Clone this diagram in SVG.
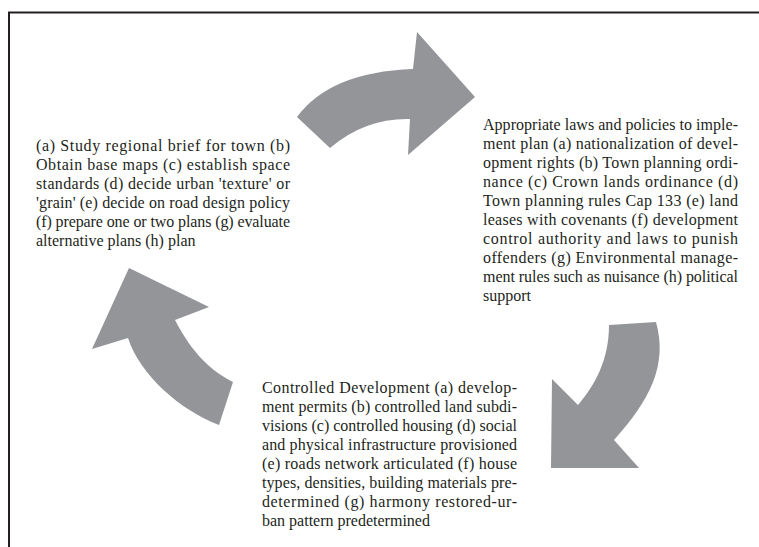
<svg xmlns="http://www.w3.org/2000/svg" width="759" height="547" viewBox="0 0 759 547">
<style>
.frame{fill:none;stroke:#231f20;stroke-width:2}
.arrow{fill:#939598;stroke:none}
.t{font-family:"Liberation Serif","Times New Roman",serif;font-size:16px;fill:#231f20}
</style>
<rect width="759" height="547" fill="#ffffff"/>
<path class="frame" d="M9,547 L9,12.5 L759,12.5"/>
<g id="connectors">
<path id="arrow-top" class="arrow" d="M330,148 L297,117 Q330,72 413,69 L417,32 L475,97 L408,155 L410,119 Q365,118 330,148 Z"/>
<path id="arrow-right" class="arrow" d="M609,325 L656,322 C668,365 650,400 614,440 L639,468 L551,468 L552,379 L578,405 C595,385 609,360 609,325 Z"/>
<path id="arrow-left" class="arrow" d="M129,268 L209,307 L175,320 C188,345 205,368 233,382 L219,425 C180,410 140,375 128,338 L92,349 Z"/>
</g>
<g id="node-plan">
<text class="t" x="36" y="151" textLength="254" lengthAdjust="spacing">(a) Study regional brief for town (b)</text>
<text class="t" x="36" y="170" textLength="254" lengthAdjust="spacing">Obtain base maps (c) establish space</text>
<text class="t" x="36" y="189" textLength="254" lengthAdjust="spacing">standards (d) decide urban 'texture' or</text>
<text class="t" x="36" y="208" textLength="254" lengthAdjust="spacing">'grain' (e) decide on road design policy</text>
<text class="t" x="36" y="227" textLength="254" lengthAdjust="spacing">(f) prepare one or two plans (g) evaluate</text>
<text class="t" x="36" y="246">alternative plans (h) plan</text>
</g>
<g id="node-laws">
<text class="t" x="483" y="130" textLength="255" lengthAdjust="spacing">Appropriate laws and policies to imple-</text>
<text class="t" x="483" y="149" textLength="255" lengthAdjust="spacing">ment plan (a) nationalization of devel-</text>
<text class="t" x="483" y="168" textLength="255" lengthAdjust="spacing">opment rights (b) Town planning ordi-</text>
<text class="t" x="483" y="187" textLength="255" lengthAdjust="spacing">nance (c) Crown lands ordinance (d)</text>
<text class="t" x="483" y="206" textLength="255" lengthAdjust="spacing">Town planning rules Cap 133 (e) land</text>
<text class="t" x="483" y="225" textLength="255" lengthAdjust="spacing">leases with covenants (f) development</text>
<text class="t" x="483" y="244" textLength="255" lengthAdjust="spacing">control authority and laws to punish</text>
<text class="t" x="483" y="263" textLength="255" lengthAdjust="spacing">offenders (g) Environmental manage-</text>
<text class="t" x="483" y="282" textLength="255" lengthAdjust="spacing">ment rules such as nuisance (h) political</text>
<text class="t" x="483" y="301">support</text>
</g>
<g id="node-development">
<text class="t" x="262" y="392.5" textLength="255" lengthAdjust="spacing">Controlled Development (a) develop-</text>
<text class="t" x="262" y="411.5" textLength="255" lengthAdjust="spacing">ment permits (b) controlled land subdi-</text>
<text class="t" x="262" y="430.5" textLength="255" lengthAdjust="spacing">visions (c) controlled housing (d) social</text>
<text class="t" x="262" y="449.5" textLength="255" lengthAdjust="spacing">and physical infrastructure provisioned</text>
<text class="t" x="262" y="468.5" textLength="255" lengthAdjust="spacing">(e) roads network articulated (f) house</text>
<text class="t" x="262" y="487.5" textLength="255" lengthAdjust="spacing">types, densities, building materials pre-</text>
<text class="t" x="262" y="506.5" textLength="255" lengthAdjust="spacing">determined (g) harmony restored-ur-</text>
<text class="t" x="262" y="525.5">ban pattern predetermined</text>
</g>
</svg>
